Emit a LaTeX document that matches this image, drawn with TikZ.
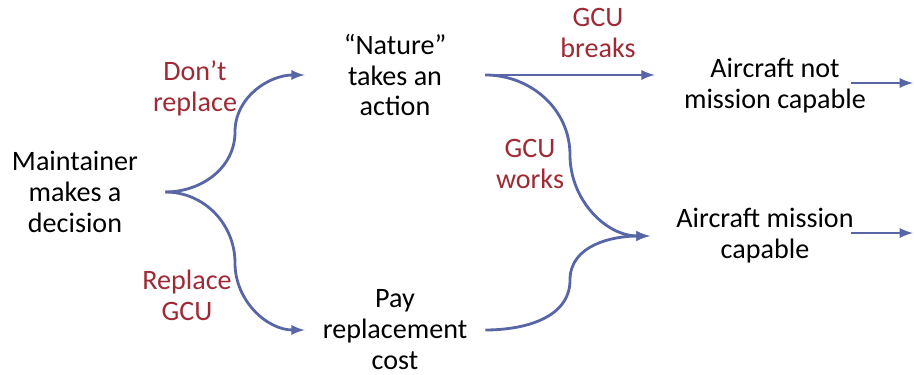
\documentclass[tikz,border=0pt]{standalone}
\usepackage{fontspec}
\setmainfont{Carlito}
\usepackage{tikz}
\definecolor{linkblue}{RGB}{88,102,166}
\definecolor{lblred}{RGB}{158,42,53}

\begin{document}
\begin{tikzpicture}[x=0.02cm,y=0.02cm,>=latex,
		every node/.style={font=\fontsize{16}{17.6}\selectfont},
		box/.style={align=center,minimum width=3.6cm,inner sep=0},
		lbl/.style={align=center,text=lblred,inner sep=0},
		link/.style={draw=linkblue,line width=1.6pt}]
		
		\useasboundingbox (0,0) rectangle (914,375);
		
		\node(1) at (75,183)[box]{Maintainer\\makes a\\decision};
		\node(2) at (395,300)[box]{``Nature''\\takes an\\action};
		\node(3) at (395,45)[box]{Pay\\replacement\\cost};
		\node(4) at (775,289)[box,minimum width=4.8cm]{Aircraft not\\mission capable};
		\node(5) at (765,139)[box,minimum width=4.6cm]{Aircraft mission\\capable};
		
		\node(6) at (195,287)[lbl]{Don't\\replace};
		\node(7) at (187,80)[lbl]{Replace\\GCU};
		\node(8) at (598,342)[lbl]{GCU\\breaks};
		\node(9) at (530,211)[lbl]{GCU\\works};
		
		\coordinate(a) at (851,292);
		\coordinate(b) at (913,292);
		\coordinate(c) at (851,142);
		\coordinate(d) at (913,142);
		
		\draw[link,->] (1.east) to[out=0,in=-90] (235,243) to[out=90,in=180] (2.west);
		\draw[link,->] (1.east) to[out=0,in=90] (235,112) to[out=-90,in=180] (3.west);
		\draw[link,->] (2.east) -- (4.west |- 2.east);
		\draw[link,->] (2.east) to[out=0,in=90] (570,220) to[out=-90,in=180] (5.west);
		\draw[link,->] (3.east) to[out=0,in=-90] (570,95) to[out=90,in=180] (5.west);
		\draw[link,->] (a) -- (b);
		\draw[link,->] (c) -- (d);
		
	\end{tikzpicture}
\end{document}
